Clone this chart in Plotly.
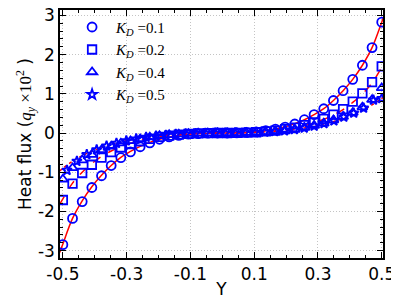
import plotly.graph_objects as go

# ---- data ----
Y = [-0.5, -0.4697, -0.4394, -0.4091, -0.3788, -0.3485, -0.3182, -0.2879, -0.2576,
     -0.2273, -0.1970, -0.1667, -0.1364, -0.1061, -0.0758, -0.0455, -0.0152,
     0.0152, 0.0455, 0.0758, 0.1061, 0.1364, 0.1667, 0.1970, 0.2273, 0.2576,
     0.2879, 0.3182, 0.3485, 0.3788, 0.4091, 0.4394, 0.4697, 0.5]

q_k01 = [-2.85, -2.18, -1.75, -1.39, -1.09, -0.83, -0.63, -0.48, -0.35, -0.25, -0.16,
         -0.10, -0.06, -0.03, -0.015, -0.005, 0.0,
         0.0, 0.005, 0.015, 0.03, 0.06, 0.10, 0.15, 0.23, 0.34, 0.47, 0.62, 0.83,
         1.08, 1.37, 1.73, 2.18, 2.83]
q_k02 = [-1.71, -1.29, -1.02, -0.81, -0.63, -0.49, -0.37, -0.28, -0.21, -0.15, -0.10,
         -0.065, -0.04, -0.02, -0.01, -0.004, 0.0,
         0.0, 0.004, 0.01, 0.02, 0.04, 0.06, 0.10, 0.14, 0.20, 0.27, 0.36, 0.47,
         0.61, 0.80, 1.01, 1.30, 1.70]
q_k04 = [-1.18, -0.89, -0.69, -0.55, -0.43, -0.34, -0.26, -0.20, -0.15, -0.105, -0.07,
         -0.045, -0.03, -0.015, -0.008, -0.003, 0.0,
         0.0, 0.003, 0.008, 0.015, 0.03, 0.045, 0.07, 0.10, 0.14, 0.19, 0.25, 0.33,
         0.42, 0.52, 0.66, 0.85, 1.15]

Y_star = [-0.487, -0.456, -0.425, -0.394, -0.363, -0.332, -0.301, -0.270, -0.239,
          -0.208, -0.177, -0.146, -0.115, -0.084, -0.053, -0.022, 0.009, 0.040,
          0.071, 0.102, 0.133, 0.164, 0.195, 0.226, 0.257, 0.288, 0.319, 0.350,
          0.381, 0.412, 0.443, 0.474, 0.500]
q_k05 = [-0.95, -0.72, -0.55, -0.43, -0.33, -0.26, -0.20, -0.15, -0.11, -0.08, -0.055,
         -0.035, -0.02, -0.01, -0.005, -0.001, 0.0, 0.003, 0.008, 0.015, 0.025, 0.04,
         0.06, 0.09, 0.13, 0.18, 0.24, 0.31, 0.41, 0.51, 0.64, 0.84, 0.88]

# analytical curves (red)
Y_line = [-0.51] + Y + [0.51]
line_k01 = [-3.05, -2.83, -2.18, -1.73, -1.37, -1.08, -0.83, -0.62, -0.47, -0.34, -0.24,
            -0.16, -0.10, -0.06, -0.03, -0.015, -0.005, -0.001,
            0.001, 0.005, 0.015, 0.03, 0.06, 0.10, 0.16, 0.24, 0.34, 0.47, 0.62, 0.83,
            1.08, 1.37, 1.73, 2.18, 2.83, 3.05]
line_k02 = [-1.82, -1.68, -1.28, -1.00, -0.78, -0.60, -0.46, -0.35, -0.26, -0.19, -0.135,
            -0.095, -0.06, -0.035, -0.02, -0.01, -0.004, -0.001,
            0.001, 0.004, 0.01, 0.02, 0.035, 0.06, 0.095, 0.135, 0.19, 0.26, 0.35, 0.46,
            0.60, 0.78, 1.00, 1.28, 1.68, 1.82]
line_k05 = [-0.97, -0.90, -0.72, -0.58, -0.46, -0.37, -0.29, -0.23, -0.17, -0.13, -0.09,
            -0.065, -0.04, -0.025, -0.013, -0.006, -0.002, 0.0,
            0.0, 0.002, 0.006, 0.013, 0.025, 0.04, 0.065, 0.09, 0.13, 0.17, 0.23, 0.29,
            0.37, 0.46, 0.58, 0.72, 0.88, 0.95]

x_ticks = [-0.5, -0.3, -0.1, 0.1, 0.3, 0.5]
x_ticktext = ["-0.5", "-0.3", "-0.1", "0.1", "0.3", "0.5"]
y_ticks = [-3, -2, -1, 0, 1, 2, 3]
y_ticktext = ["-3", "-2", "-1", "0", "1", "2", "3"]

labels = ["<i>K</i><sub><i>D</i></sub> =0.1", "<i>K</i><sub><i>D</i></sub> =0.2",
          "<i>K</i><sub><i>D</i></sub> =0.4", "<i>K</i><sub><i>D</i></sub> =0.5"]

BLUE = "#0000ff"
RED = "#ff0000"

fig = go.Figure()

fig.add_trace(go.Scatter(x=Y_line, y=line_k01, mode="lines", showlegend=False,
                         line=dict(color=RED, width=1.5, shape="spline")))
fig.add_trace(go.Scatter(x=Y_line, y=line_k02, mode="lines", showlegend=False,
                         line=dict(color=RED, width=1.5, dash="dash", shape="spline")))
fig.add_trace(go.Scatter(x=Y_line, y=line_k05, mode="lines", showlegend=False,
                         line=dict(color=RED, width=1.5, dash="dot", shape="spline")))

fig.add_trace(go.Scatter(x=Y, y=q_k01, mode="markers", name=labels[0],
                         marker=dict(symbol="circle-open", size=9, color=BLUE,
                                     line=dict(color=BLUE, width=1.8))))
fig.add_trace(go.Scatter(x=Y, y=q_k02, mode="markers", name=labels[1],
                         marker=dict(symbol="square-open", size=8.5, color=BLUE,
                                     line=dict(color=BLUE, width=1.8))))
fig.add_trace(go.Scatter(x=Y, y=q_k04, mode="markers", name=labels[2],
                         marker=dict(symbol="triangle-up-open", size=9, color=BLUE,
                                     line=dict(color=BLUE, width=1.8))))
fig.add_trace(go.Scatter(x=Y_star, y=q_k05, mode="markers", name=labels[3],
                         marker=dict(symbol="star-open", size=7.5, color=BLUE,
                                     line=dict(color=BLUE, width=1.8))))

axis_common = dict(
    showline=True, linecolor="black", linewidth=1.5, mirror="ticks",
    ticks="inside", ticklen=6, tickwidth=1, tickcolor="black",
    showgrid=True, gridcolor="#c4c4c4", gridwidth=1, griddash="1px,2px",
    zeroline=False, ticklabeloverflow="allow",
    tickfont=dict(family="DejaVu Sans", size=17, color="black"),
)

# the page body adds an 8px offset, so the figure is drawn 8px smaller
fig.update_layout(
    width=391, height=291,
    margin=dict(l=52, r=16, t=2, b=41, autoexpand=False),
    paper_bgcolor="white", plot_bgcolor="white",
    xaxis=dict(range=[-0.509, 0.504], tickmode="array", tickvals=x_ticks,
               ticktext=x_ticktext,
               minor=dict(tickmode="linear", tick0=0, dtick=0.05, ticks="inside",
                          ticklen=3, tickcolor="black", showgrid=False),
               title=dict(text="Y", font=dict(family="DejaVu Sans", size=17, color="black"),
                          standoff=2),
               **axis_common),
    yaxis=dict(range=[-3.19, 3.14], tickmode="array", tickvals=y_ticks,
               ticktext=y_ticktext,
               minor=dict(tickmode="linear", tick0=0, dtick=0.2, ticks="inside",
                          ticklen=3, tickcolor="black", showgrid=False),
               title=dict(text="Heat flux (<span style='font-family:Liberation Serif'><i>q</i><sub><i>y</i></sub> ×10<sup>2</sup></span> )",
                          font=dict(family="DejaVu Sans", size=17, color="black"),
                          standoff=0),
               **axis_common),
    legend=dict(x=0.025, y=0.997, xanchor="left", yanchor="top",
                bgcolor="rgba(0,0,0,0)", borderwidth=0,
                font=dict(family="Liberation Serif", size=15, color="black"),
                itemwidth=38, tracegroupgap=0),
    showlegend=True,
)

fig.write_html("out.html")
